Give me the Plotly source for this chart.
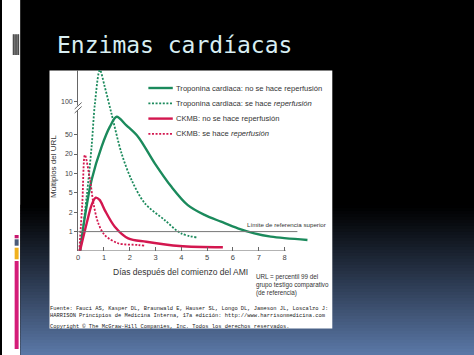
import numpy as np
import plotly.graph_objects as go

# ---------------- data (multiples of the URL vs. days) ----------------
TROP_NR_DAYS = [0.07, 0.26, 0.52, 0.91, 1.23, 1.49, 1.87, 2.32, 2.97, 3.61, 4.25, 4.90, 5.54, 6.19, 6.83, 7.47, 8.89]
TROP_NR_URL  = [0.0, 1.77, 8.3, 31.4, 62, 77, 64, 46.8, 15.2, 6.6, 3.1, 1.86, 1.51, 1.17, 0.91, 0.74, 0.57]

TROP_R_DAYS = [0.08, 0.33, 0.52, 0.65, 0.84, 1.03, 1.29, 1.68, 2.07, 2.58, 3.35, 3.99, 4.64]
TROP_R_URL  = [0.0, 4.4, 31.4, 97.4, 148, 122.6, 82, 21.2, 8.3, 3.4, 1.6, 0.91, 0.69]

CKMB_NR_DAYS = [0.07, 0.33, 0.52, 0.68, 0.83, 1.03, 1.42, 1.94, 2.64, 3.93, 5.61]
CKMB_NR_URL  = [0.0, 1.43, 3.1, 4.25, 3.9, 2.33, 1.25, 0.65, 0.48, 0.26, 0.19]

CKMB_R_DAYS = [0.04, 0.16, 0.26, 0.46, 0.59, 0.78, 1.03, 1.55, 2.32, 2.58]
CKMB_R_URL  = [0.0, 3.4, 19.5, 8.3, 3.4, 1.43, 0.82, 0.40, 0.31, 0.27]

SERIES_NAMES = [
    "Troponina cardiaca: no se hace reperfusión",
    "Troponina cardiaca: se hace <i>reperfusión</i>",
    "CKMB: no se hace reperfusión",
    "CKMB: se hace <i>reperfusión</i>",
]

# custom (broken, non-linear) URL axis of the original figure
SCALE_URL = [0, 1, 2, 5, 10, 20, 50, 100, 150]
SCALE_POS = [0, 1, 2, 3, 4, 5, 6, 7.7, 9.4]
Y_TICK_URL = [1, 2, 5, 10, 20, 50, 100]
X_TICKS = [0, 1, 2, 3, 4, 5, 6, 7, 8]
REF_LIMIT = 1
REF_LIMIT_END_DAY = 8.5

def to_pos(v):
    return np.interp(np.asarray(v, dtype=float), SCALE_URL, SCALE_POS)

# ---------------- geometry ----------------
W, H = 474, 355
def px(x): return x / W
def py(y): return 1 - y / H

GREEN = "#1b8a5c"
RED = "#d3174f"
DOT = "2px,1.6px"

fig = go.Figure()

styles = [(GREEN, "solid", 2.4), (GREEN, DOT, 1.8), (RED, "solid", 2.4), (RED, DOT, 1.8)]
series = [(TROP_NR_DAYS, TROP_NR_URL), (TROP_R_DAYS, TROP_R_URL),
          (CKMB_NR_DAYS, CKMB_NR_URL), (CKMB_R_DAYS, CKMB_R_URL)]
for (days, vals), name, (color, dash, width) in zip(series, SERIES_NAMES, styles):
    fig.add_trace(go.Scatter(
        x=days, y=to_pos(vals), name=name, mode="lines", showlegend=False,
        line=dict(color=color, dash=dash, width=width, shape="spline", smoothing=0.9),
        hoverinfo="skip"))

shapes = []
# slide background: white strip, black, gradient to blue at bottom
shapes.append(dict(type="rect", xref="paper", yref="paper", x0=0, x1=px(18.5), y0=0, y1=1,
                   fillcolor="white", line_width=0, layer="below"))
shapes.append(dict(type="rect", xref="paper", yref="paper", x0=px(18.5), x1=1, y0=0, y1=1,
                   fillcolor="black", line_width=0, layer="below"))
g_top, g_bot = 205, 355
n = 50
for i in range(n):
    y0 = g_top + (g_bot - g_top) * i / n
    y1 = g_top + (g_bot - g_top) * (i + 1) / n
    t = ((i + 0.5) / n) ** 1.1
    c = (int(92 * t), int(121 * t), int(168 * t))
    shapes.append(dict(type="rect", xref="paper", yref="paper", x0=px(18.5), x1=1,
                       y0=py(y1), y1=py(y0) + 0.001, fillcolor="rgb(%d,%d,%d)" % c,
                       line_width=0, layer="below"))
# decorative bars on the left
shapes.append(dict(type="rect", xref="paper", yref="paper", x0=px(10.7), x1=px(17.3),
                   y0=py(55), y1=py(34.3), fillcolor="#888888", line_width=0, layer="below"))
for xs in [11.5, 13.2, 14.9, 16.6]:
    shapes.append(dict(type="line", xref="paper", yref="paper", x0=px(xs), x1=px(xs),
                       y0=py(55), y1=py(34.3), line=dict(color="#3a3a3a", width=0.8), layer="below"))
for (ya, yb, col) in [(235, 238.3, "#c8186e"), (239.3, 245.7, "#4a5a78"),
                      (247.7, 259.3, "#f0b01e"), (261, 349, "#d41c78")]:
    shapes.append(dict(type="rect", xref="paper", yref="paper", x0=px(12.7), x1=px(16.7),
                       y0=py(yb), y1=py(ya), fillcolor=col, line_width=0, layer="below"))
# white picture box
shapes.append(dict(type="rect", xref="paper", yref="paper", x0=px(47.7), x1=px(331.7),
                   y0=py(328.5), y1=py(70.5), fillcolor="white", line_width=0, layer="below"))
# x axis line (ends at day 8)
shapes.append(dict(type="line", xref="x", yref="y", x0=0, x1=8.05, y0=0, y1=0,
                   line=dict(color="#666666", width=1)))
# upper reference limit
shapes.append(dict(type="line", xref="x", yref="y", x0=0, x1=REF_LIMIT_END_DAY,
                   y0=float(to_pos(REF_LIMIT)), y1=float(to_pos(REF_LIMIT)),
                   line=dict(color="#777777", width=1)))
# axis break marks
shapes.append(dict(type="rect", xref="paper", yref="paper", x0=px(75), x1=px(78),
                   y0=py(110), y1=py(105.5), fillcolor="white", line_width=0))
for yy in [0, 4]:
    shapes.append(dict(type="line", xref="paper", yref="paper", x0=px(73), x1=px(80),
                       y0=py(113 - yy), y1=py(106.5 - yy), line=dict(color="#666666", width=1)))

FONT = "Liberation Sans, Arial, sans-serif"
ann = []

# legend (drawn by hand to match the short samples and tight rows)
LEG_ROWS = [88, 103.3, 118.6, 133.9]
for (color, dash, width), name, yr in zip(styles, SERIES_NAMES, LEG_ROWS):
    shapes.append(dict(type="line", xref="paper", yref="paper", x0=px(147), x1=px(171.5),
                       y0=py(yr), y1=py(yr), line=dict(color=color, dash=dash, width=width)))
    ann.append(dict(text=name, x=px(172.5), y=py(yr), xref="paper", yref="paper",
                    xanchor="left", yanchor="middle", showarrow=False,
                    font=dict(family=FONT, size=7.6, color="#333333")))

ann.append(dict(text="Enzimas cardíacas", x=px(53), y=py(45), xref="paper", yref="paper",
                xanchor="left", yanchor="middle", showarrow=False,
                font=dict(family="DejaVu Sans Mono, monospace", size=23, color="#d8eef2")))
ann.append(dict(text="Múltiplos del URL", x=px(51.7), y=py(166.5), xref="paper", yref="paper",
                textangle=-90, showarrow=False, xanchor="center", yanchor="middle",
                font=dict(family=FONT, size=8, color="#333333")))
ann.append(dict(text="Días después del comienzo del AMI", x=px(179), y=py(271.7), xref="paper",
                yref="paper", showarrow=False, xanchor="center", yanchor="middle",
                font=dict(family=FONT, size=8.5, color="#333333")))
ann.append(dict(text="Límite de referencia superior", x=px(244), y=py(224.5), xref="paper",
                yref="paper", showarrow=False, xanchor="left", yanchor="middle",
                font=dict(family=FONT, size=6.2, color="#333333")))
ann.append(dict(text="URL = percentil 99 del<br>grupo testigo comparativo<br>(de referencia)",
                x=px(253), y=py(285), xref="paper", yref="paper", showarrow=False,
                xanchor="left", yanchor="middle", align="left",
                font=dict(family=FONT, size=6.3, color="#333333")))
MONO = "Liberation Mono, DejaVu Sans Mono, monospace"
ann.append(dict(text="Fuente: Fauci AS, Kasper DL, Braunwald E, Hauser SL, Longo DL, Jameson JL, Loscalzo J:<br>"
                     "HARRISON Principios de Medicina Interna, 17a edición: http://www.harrisonmedicina.com",
                x=px(46.5), y=py(312.7), xref="paper", yref="paper", showarrow=False,
                xanchor="left", yanchor="middle", align="left",
                font=dict(family=MONO, size=5.4, color="#222222")))
ann.append(dict(text="Copyright © The McGraw-Hill Companies, Inc. Todos los derechos reservados.",
                x=px(46.5), y=py(326), xref="paper", yref="paper", showarrow=False,
                xanchor="left", yanchor="middle", align="left",
                font=dict(family=MONO, size=5.4, color="#222222")))

x_left, px_per_day, x_max = 76.5, 25.9, 9.0
y_base, y_top = 251, 70
fig.update_layout(
    width=W, height=H, margin=dict(l=0, r=0, t=0, b=0),
    paper_bgcolor="black", plot_bgcolor="rgba(0,0,0,0)",
    shapes=shapes, annotations=ann,
    showlegend=False,
    xaxis=dict(domain=[px(x_left), px(x_left + x_max * px_per_day)], range=[0, x_max],
               showgrid=False, zeroline=False, showline=False,
               tickmode="array", tickvals=X_TICKS, ticktext=[str(v) for v in X_TICKS],
               ticks="inside", ticklen=4, tickcolor="#666666",
               tickfont=dict(family=FONT, size=7.5, color="#444444")),
    yaxis=dict(domain=[py(y_base), py(y_top)], range=[0, (y_base - y_top) / 19.4],
               showgrid=False, zeroline=False, showline=True, linecolor="#666666", linewidth=1,
               tickmode="array",
               tickvals=[float(v) for v in to_pos(Y_TICK_URL)],
               ticktext=[str(v) for v in Y_TICK_URL],
               ticks="outside", ticklen=3, tickcolor="#666666",
               tickfont=dict(family=FONT, size=7, color="#444444")),
)

fig.write_html("out.html", config={"responsive": False, "displayModeBar": False},
               post_script="document.body.style.margin='0';document.body.style.overflow='hidden';")
